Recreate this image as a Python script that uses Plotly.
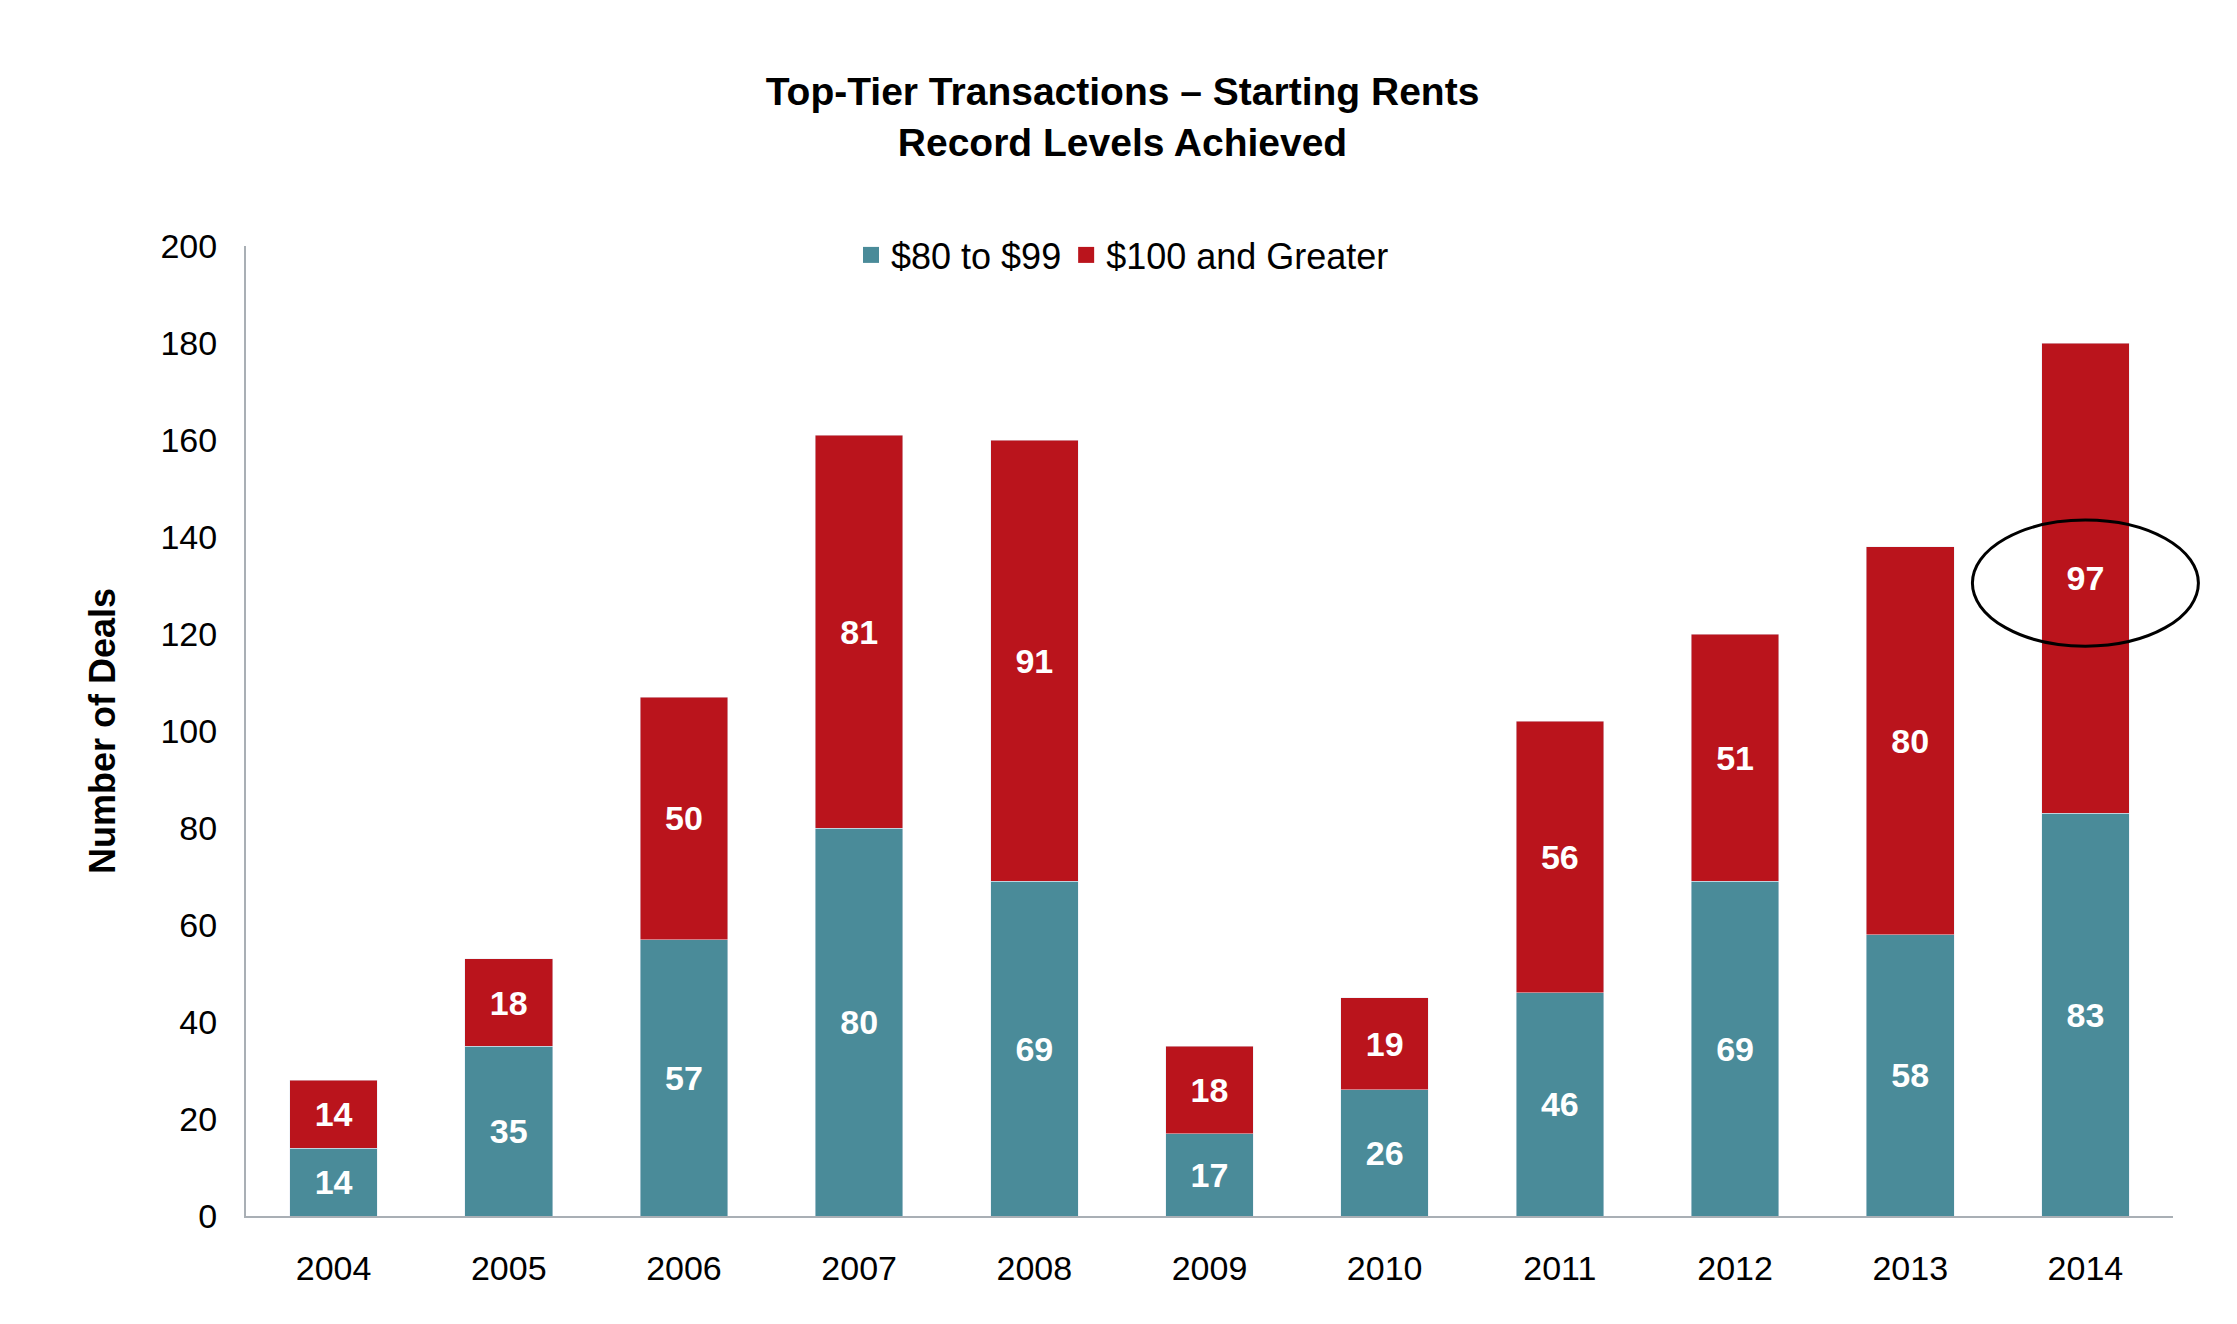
import plotly.graph_objects as go

years = ["2004", "2005", "2006", "2007", "2008", "2009", "2010", "2011", "2012", "2013", "2014"]
mid_tier = [14, 35, 57, 80, 69, 17, 26, 46, 69, 58, 83]      # $80 to $99
top_tier = [14, 18, 50, 81, 91, 18, 19, 56, 51, 80, 97]      # $100 and Greater
y_ticks = [0, 20, 40, 60, 80, 100, 120, 140, 160, 180, 200]
series_names = ["$80 to $99", "$100 and Greater"]

FONT = "Liberation Sans Narrow, Arial Narrow, Liberation Sans, Arial, sans-serif"
TEAL = "#4A8B99"
RED = "#BA141C"

# page body has an 8px default margin; size the figure to fit the window
W, H = 2229, 1316
Y_MAX = y_ticks[-1]

fig = go.Figure()
for vals, name, col in [(mid_tier, series_names[0], TEAL), (top_tier, series_names[1], RED)]:
    fig.add_trace(go.Bar(
        x=years, y=vals, name=name, marker_color=col, showlegend=False,
        text=vals, textposition="inside", insidetextanchor="middle",
        textangle=0, constraintext="none",
        textfont=dict(family=FONT, size=34, color="white", weight="bold"),
    ))
# legend entries with larger square swatches
for name, col in [(series_names[0], TEAL), (series_names[1], RED)]:
    fig.add_trace(go.Scatter(
        x=[None], y=[None], mode="markers", name=name,
        marker=dict(symbol="square", size=20, color=col),
    ))

# highlight ellipse around the 2014 "$100 and Greater" label
# (paper coordinates derived from the category index / value so it is not clipped)
n = len(years)
idx = n - 1
cy = mid_tier[idx] + top_tier[idx] / 2
fig.add_shape(type="circle", xref="paper", yref="paper",
              x0=(idx + 0.5 - 0.645) / n, x1=(idx + 0.5 + 0.645) / n,
              y0=(cy - 14) / Y_MAX, y1=(cy + 12) / Y_MAX,
              line=dict(color="black", width=3))

fig.update_layout(
    barmode="stack",
    bargap=0.5,
    width=W, height=H,
    margin=dict(l=238, r=64, t=238, b=108, autoexpand=False),
    paper_bgcolor="white", plot_bgcolor="white",
    font=dict(family=FONT, color="black"),
    title=dict(
        text="<b>Top-Tier Transactions \u2013 Starting Rents<br>Record Levels Achieved</b>",
        x=0.5, xref="container", xanchor="center",
        y=1 - 97 / H, yref="container", yanchor="top",
        font=dict(family=FONT, size=39, color="black"),
    ),
    legend=dict(
        orientation="h", x=0.5, xref="container", xanchor="center",
        y=1 - 247 / H, yref="container", yanchor="middle",
        font=dict(family=FONT, size=36, color="black"),
        traceorder="normal", itemwidth=30,
    ),
    showlegend=True,
)
fig.update_xaxes(
    type="category", range=[-0.5, n - 0.5],
    showline=True, linecolor="#A9AFB5", linewidth=2,
    ticks="outside", ticklen=21, tickcolor="rgba(0,0,0,0)",
    tickfont=dict(family=FONT, size=34, color="black"),
    showgrid=False, zeroline=False,
)
fig.update_yaxes(
    range=[0, Y_MAX], tickvals=y_ticks, showline=True, linecolor="#A9AFB5", linewidth=2,
    ticks="outside", ticklen=20, tickcolor="rgba(0,0,0,0)",
    tickfont=dict(family=FONT, size=34, color="black"),
    showgrid=False, zeroline=False,
    title=dict(text="<b>Number of Deals</b>", font=dict(family=FONT, size=36, color="black"), standoff=34),
)

fig.write_html("out.html")
